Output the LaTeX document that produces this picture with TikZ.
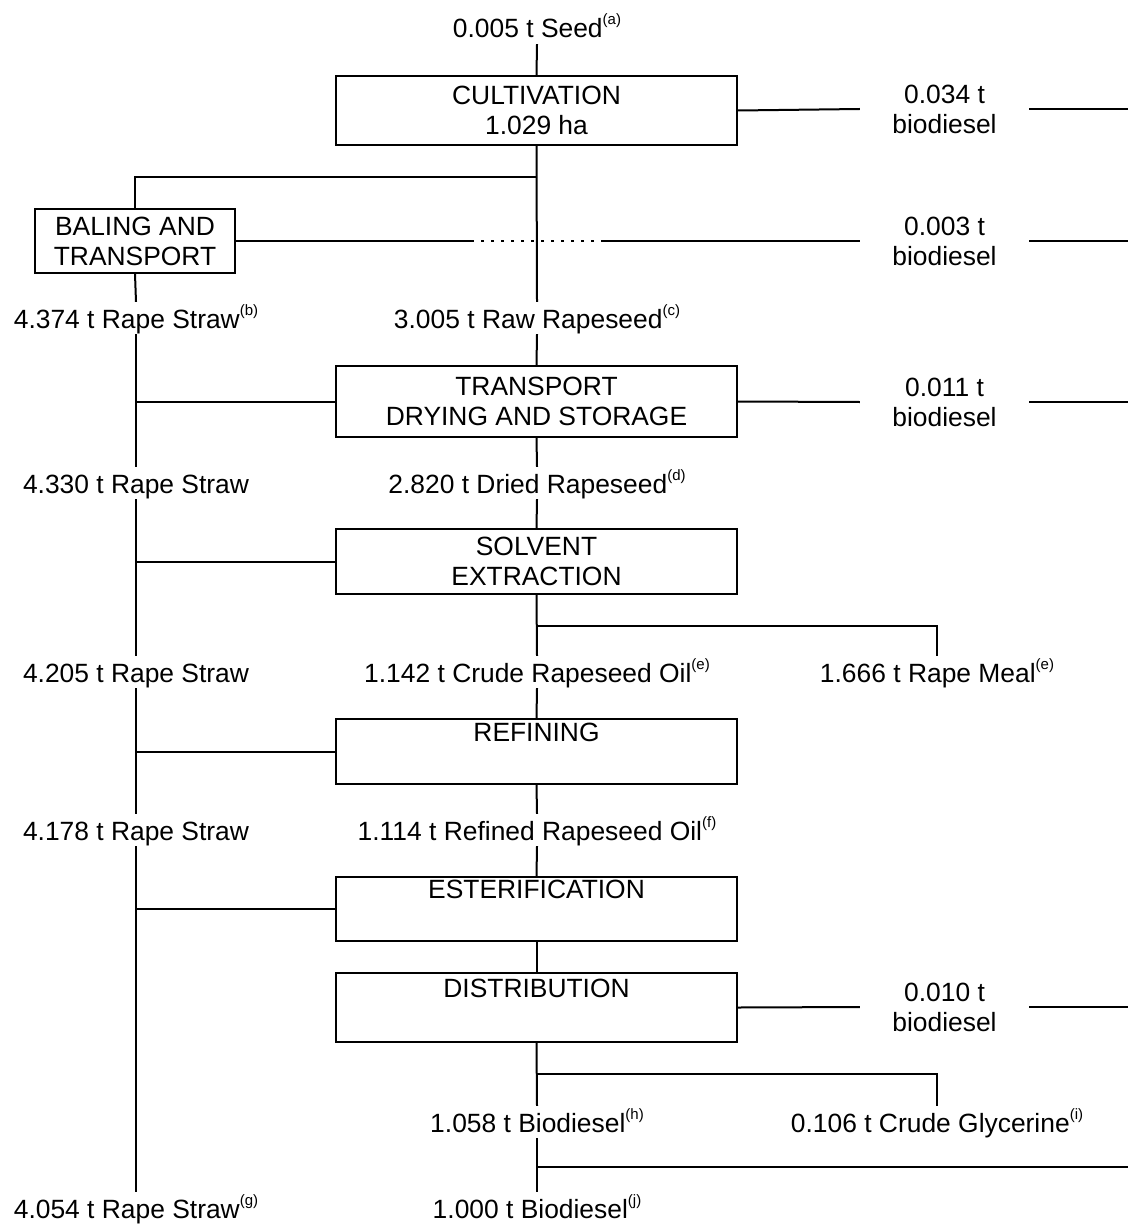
\documentclass[tikz,border=0pt]{standalone}
\usepackage{fontspec}
\setmainfont{Liberation Sans}
\newcommand\fnm[1]{\raisebox{13pt}{\fontsize{15}{15}\selectfont(#1)}}
\begin{document}
\begin{tikzpicture}[x=1pt,y=-1pt,
  every node/.style={font=\fontsize{26.4}{30}\selectfont},
  conn/.style={line width=2pt},
  procbox/.style={draw,line width=2pt,minimum width=401pt,align=center,inner sep=0pt},
  lbl/.style={inner sep=0pt,text height=26pt,text depth=6pt,anchor=base},
  biolbl/.style={inner sep=0pt,minimum width=169pt,align=center},
  dotseg/.style={line width=2pt,dash pattern=on 3.3pt off 6.7pt}]
\useasboundingbox (0,0) rectangle (1128,1225);
\coordinate (edge) at (1128,0);
% labels on the main line
\node[lbl] (seed) at (537,38) {0.005 t Seed\fnm{a}};
\node[lbl] (raw) at (537,328) {3.005 t Raw Rapeseed\fnm{c}};
\node[lbl] (dried) at (537,493) {2.820 t Dried Rapeseed\fnm{d}};
\node[lbl] (crude) at (537,682) {1.142 t Crude Rapeseed Oil\fnm{e}};
\node[lbl] (refined) at (537,840) {1.114 t Refined Rapeseed Oil\fnm{f}};
\node[lbl] (bd1) at (537,1132) {1.058 t Biodiesel\fnm{h}};
\node[lbl] (bd2) at (537,1218) {1.000 t Biodiesel\fnm{j}};
% straw labels
\node[lbl] (straw1) at (136,328) {4.374 t Rape Straw\fnm{b}};
\node[lbl] (straw2) at (136,493) {4.330 t Rape Straw};
\node[lbl] (straw3) at (136,682) {4.205 t Rape Straw};
\node[lbl] (straw4) at (136,840) {4.178 t Rape Straw};
\node[lbl] (straw5) at (136,1218) {4.054 t Rape Straw\fnm{g}};
% side products
\node[lbl] (meal) at (937,682) {1.666 t Rape Meal\fnm{e}};
\node[lbl] (glyc) at (937,1132) {0.106 t Crude Glycerine\fnm{i}};
% process boxes
\node[procbox,minimum height=69pt] (cult) at (536.5,110.5) {CULTIVATION\\1.029 ha};
\node[procbox,minimum width=200pt,minimum height=64pt] (baling) at (135,241) {BALING AND\\TRANSPORT};
\node[procbox,minimum height=71pt] (transp) at (536.5,401.5) {TRANSPORT\\DRYING AND STORAGE};
\node[procbox,minimum height=65pt] (solv) at (536.5,561.5) {SOLVENT\\EXTRACTION};
\node[procbox,minimum height=65pt] (refin) at (536.5,751.5) {REFINING\\\strut};
\node[procbox,minimum height=64pt] (ester) at (536.5,909) {ESTERIFICATION\\\strut};
\node[procbox,minimum height=69pt] (dist) at (536.5,1007.5) {DISTRIBUTION\\\strut};
% biodiesel consumption labels
\node[biolbl] (bio1) at (944.5,109) {0.034 t\\biodiesel};
\node[biolbl] (bio2) at (944.5,241) {0.003 t\\biodiesel};
\node[biolbl] (bio3) at (944.5,402) {0.011 t\\biodiesel};
\node[biolbl] (bio4) at (944.5,1007) {0.010 t\\biodiesel};
% split coordinates
\coordinate (sp1) at (537,177);
\coordinate (sp2) at (537,626);
\coordinate (sp3) at (537,1074);
\coordinate (sp4) at (537,1167);
\coordinate (d1) at (471,241);
\coordinate (d2) at (602,241);
% main line
\draw[conn] (seed.south) -- (cult.north);
\draw[conn] (cult.south) -- (raw.north);
\draw[conn] (raw.south) -- (transp.north);
\draw[conn] (transp.south) -- (dried.north);
\draw[conn] (dried.south) -- (solv.north);
\draw[conn] (solv.south) -- (crude.north);
\draw[conn] (crude.south) -- (refin.north);
\draw[conn] (refin.south) -- (refined.north);
\draw[conn] (refined.south) -- (ester.north);
\draw[conn] (ester.south) -- (dist.north);
\draw[conn] (dist.south) -- (bd1.north);
\draw[conn] (bd1.south) -- (bd2.north);
% branches
\draw[conn] (sp1) -| (baling.north);
\draw[conn] (sp2) -| (meal.north);
\draw[conn] (sp3) -| (glyc.north);
\draw[conn] (sp4) -- (sp4 -| edge);
% straw line
\draw[conn] (baling.south) -- (straw1.north);
\draw[conn] (straw1.south) -- (straw2.north);
\draw[conn] (straw2.south) -- (straw3.north);
\draw[conn] (straw3.south) -- (straw4.north);
\draw[conn] (straw4.south) -- (straw5.north);
\draw[conn] (transp.west) -- (transp.west -| straw1.south);
\draw[conn] (solv.west) -- (solv.west -| straw2.south);
\draw[conn] (refin.west) -- (refin.west -| straw3.south);
\draw[conn] (ester.west) -- (ester.west -| straw4.south);
% biodiesel consumption lines
\draw[conn] (cult.east) -- (bio1.west);
\draw[conn] (bio1.east) -- (bio1.east -| edge);
\draw[conn] (baling.east) -- (d1);
\draw[dotseg] (d1) -- (d2);
\draw[conn] (d2) -- (bio2.west);
\draw[conn] (bio2.east) -- (bio2.east -| edge);
\draw[conn] (transp.east) -- (bio3.west);
\draw[conn] (bio3.east) -- (bio3.east -| edge);
\draw[conn] (dist.east) -- (bio4.west);
\draw[conn] (bio4.east) -- (bio4.east -| edge);
\end{tikzpicture}
\end{document}
